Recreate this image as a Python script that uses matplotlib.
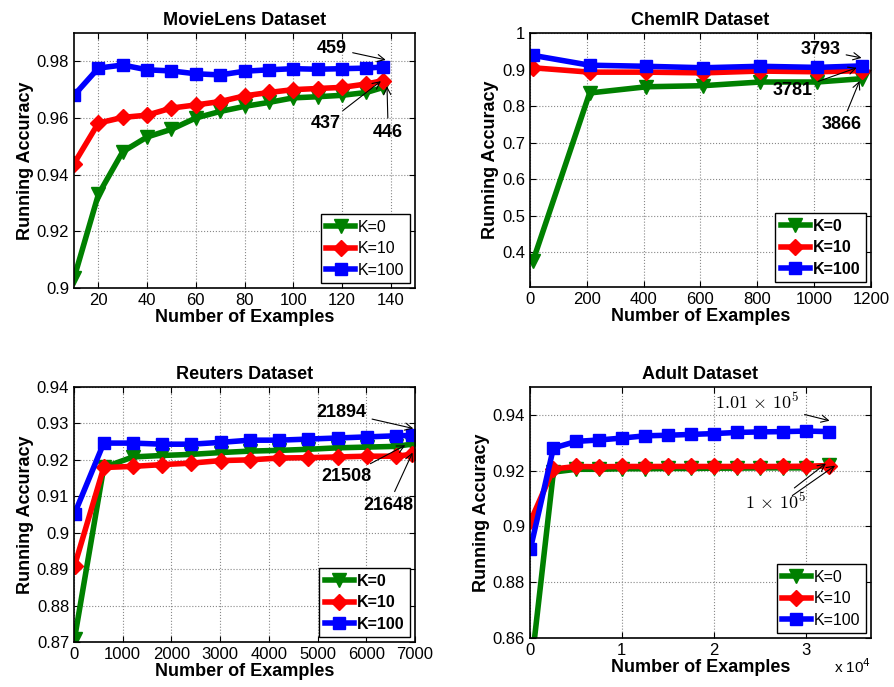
import numpy as np
import matplotlib
matplotlib.use('Agg')
import matplotlib.pyplot as plt

plt.rcParams['font.family'] = ['Liberation Sans', 'DejaVu Sans']
plt.rcParams['mathtext.fontset'] = 'cm'

labels = ['K=0', 'K=10', 'K=100']
colors = ['#008000', '#ff0000', '#0000ff']
markers = ['v', 'D', 's']
msizes = [10, 8, 8]

# MovieLens
ml_x = [10, 20, 30, 40, 50, 60, 70, 80, 90, 100, 110, 120, 130, 137]
ml_k0 = [0.9035, 0.933, 0.9481, 0.9533, 0.956, 0.960, 0.9623, 0.9641, 0.9655, 0.9671, 0.9675, 0.968, 0.969, 0.9708]
ml_k10 = [0.9439, 0.9582, 0.9602, 0.961, 0.9635, 0.9646, 0.9658, 0.9678, 0.969, 0.970, 0.9704, 0.9708, 0.972, 0.9732]
ml_k100 = [0.968, 0.9776, 0.9787, 0.977, 0.9766, 0.9756, 0.9752, 0.9765, 0.977, 0.9774, 0.9772, 0.9774, 0.9776, 0.978]

# ChemIR
ch_x = [10, 210, 410, 610, 810, 1010, 1167]
ch_k0 = [0.375, 0.836, 0.853, 0.856, 0.866, 0.866, 0.875]
ch_k10 = [0.905, 0.893, 0.893, 0.891, 0.896, 0.894, 0.897]
ch_k100 = [0.939, 0.912, 0.909, 0.905, 0.909, 0.906, 0.910]

# Reuters
re_x = [10, 610, 1210, 1810, 2410, 3010, 3610, 4210, 4810, 5410, 6010, 6610, 6930]
re_k0 = [0.8709, 0.9179, 0.9208, 0.9212, 0.9215, 0.922, 0.9224, 0.9226, 0.9229, 0.9233, 0.9235, 0.9237, 0.9243]
re_k10 = [0.8909, 0.9179, 0.9182, 0.9187, 0.9191, 0.9198, 0.920, 0.9205, 0.9206, 0.9208, 0.921, 0.921, 0.9215]
re_k100 = [0.9052, 0.9246, 0.9246, 0.9243, 0.9243, 0.9248, 0.9254, 0.9254, 0.9257, 0.926, 0.9263, 0.9266, 0.9267]

# Adult
ad_x = [50, 2550, 5050, 7550, 10050, 12550, 15050, 17550, 20050, 22550, 25050, 27550, 30050, 32550]
ad_k0 = [0.847, 0.9195, 0.9205, 0.9205, 0.9207, 0.9207, 0.9208, 0.9208, 0.9209, 0.9209, 0.921, 0.921, 0.921, 0.922]
ad_k10 = [0.9018, 0.9206, 0.9215, 0.9214, 0.9215, 0.9215, 0.9215, 0.9215, 0.9215, 0.9215, 0.9215, 0.9215, 0.9216, 0.9218]
ad_k100 = [0.892, 0.9281, 0.9305, 0.931, 0.9317, 0.9325, 0.9327, 0.933, 0.9333, 0.9337, 0.9339, 0.934, 0.9342, 0.934]

fig = plt.figure(figsize=(8.94, 6.87), dpi=100)
positions = [
    [0.0828, 0.5808, 0.3814, 0.3712],
    [0.5928, 0.5822, 0.3814, 0.3697],
    [0.0828, 0.0655, 0.3814, 0.3712],
    [0.5928, 0.0713, 0.3814, 0.3654],
]
axes = [fig.add_axes(p) for p in positions]


def draw(ax, x, series, title, xlim, ylim, xticks, yticks, yticklabels, leg_bold):
    for ys, lab, c, m, ms in zip(series, labels, colors, markers, msizes):
        ax.plot(x, ys, color=c, marker=m, markersize=ms, linewidth=4, label=lab,
                markeredgecolor=c)
    ax.set_xlim(*xlim)
    ax.set_ylim(*ylim)
    ax.set_xticks(xticks)
    ax.set_yticks(yticks)
    ax.set_yticklabels(yticklabels)
    ax.grid(True, linestyle=':', color='#888888', linewidth=0.8)
    ax.tick_params(direction='in', top=True, right=True, labelsize=12, length=4)
    ax.set_title(title, fontsize=13, fontweight='bold', pad=6)
    ax.set_xlabel('Number of Examples', fontsize=13, fontweight='bold', labelpad=1)
    ax.set_ylabel('Running Accuracy', fontsize=13, fontweight='bold', labelpad=2)
    for s in ax.spines.values():
        s.set_linewidth(1.2)
    leg = ax.legend(loc='lower right', handlelength=1.8, handletextpad=0.2,
                    borderpad=0.35, labelspacing=0.4, fancybox=False, edgecolor='black',
                    framealpha=1, borderaxespad=0.3,
                    prop={'weight': 'bold' if leg_bold else 'normal', 'size': 11.5})
    leg.get_frame().set_linewidth(1.0)


def note(ax, text, xy, xytext, **kw):
    ax.annotate(text, xy=xy, xytext=xytext, ha='center', va='center',
                arrowprops=dict(arrowstyle='->', color='black', lw=0.8, shrinkA=2, shrinkB=0),
                **kw)


ax = axes[0]
draw(ax, ml_x, [ml_k0, ml_k10, ml_k100], 'MovieLens Dataset', (10, 150), (0.9, 0.99),
     [20, 40, 60, 80, 100, 120, 140], [0.9, 0.92, 0.94, 0.96, 0.98],
     ['0.9', '0.92', '0.94', '0.96', '0.98'], False)
note(ax, '459', (138, 0.9805), (116, 0.9846), fontsize=13, fontweight='bold')
note(ax, '437', (136, 0.9730), (113.5, 0.958), fontsize=13, fontweight='bold')
note(ax, '446', (138.5, 0.9712), (139, 0.955), fontsize=13, fontweight='bold')

ax = axes[1]
draw(ax, ch_x, [ch_k0, ch_k10, ch_k100], 'ChemIR Dataset', (0, 1200), (0.305, 1.0),
     [0, 200, 400, 600, 800, 1000, 1200], [0.4, 0.5, 0.6, 0.7, 0.8, 0.9, 1.0],
     ['0.4', '0.5', '0.6', '0.7', '0.8', '0.9', '1'], True)
note(ax, '3793', (1167, 0.932), (1023, 0.954), fontsize=13, fontweight='bold')
note(ax, '3781', (1150, 0.905), (925, 0.843), fontsize=13, fontweight='bold')
note(ax, '3866', (1160, 0.869), (1097, 0.749), fontsize=13, fontweight='bold')

ax = axes[2]
draw(ax, re_x, [re_k0, re_k10, re_k100], 'Reuters Dataset', (0, 7000), (0.87, 0.94),
     list(range(0, 7001, 1000)), [0.87, 0.88, 0.89, 0.90, 0.91, 0.92, 0.93, 0.94],
     ['0.87', '0.88', '0.89', '0.9', '0.91', '0.92', '0.93', '0.94'], True)
note(ax, '21894', (6966, 0.9286), (5493, 0.9331), fontsize=13, fontweight='bold')
note(ax, '21508', (6800, 0.9240), (5596, 0.9155), fontsize=13, fontweight='bold')
note(ax, '21648', (6950, 0.9220), (6452, 0.9075), fontsize=13, fontweight='bold')

ax = axes[3]
draw(ax, ad_x, [ad_k0, ad_k10, ad_k100], 'Adult Dataset', (0, 37100), (0.86, 0.95),
     [0, 10000, 20000, 30000], [0.86, 0.88, 0.90, 0.92, 0.94],
     ['0.86', '0.88', '0.9', '0.92', '0.94'], False)
ax.set_xticklabels(['0', '1', '2', '3'])
ax.text(1.0, -0.115, r'x 10$^{4}$', transform=ax.transAxes, ha='right', va='center',
        fontsize=11, math_fontfamily='dejavusans')
note(ax, r'$1.01\,\times\,10^5$', (32600, 0.9379), (24700, 0.9444), fontsize=13)
note(ax, r'$1\,\times\,10^5$', (32200, 0.9226), (26700, 0.9085), fontsize=13)
note(ax, '', (33200, 0.9218), (28300, 0.9105), fontsize=13)

fig.savefig('out.png', dpi=100)
